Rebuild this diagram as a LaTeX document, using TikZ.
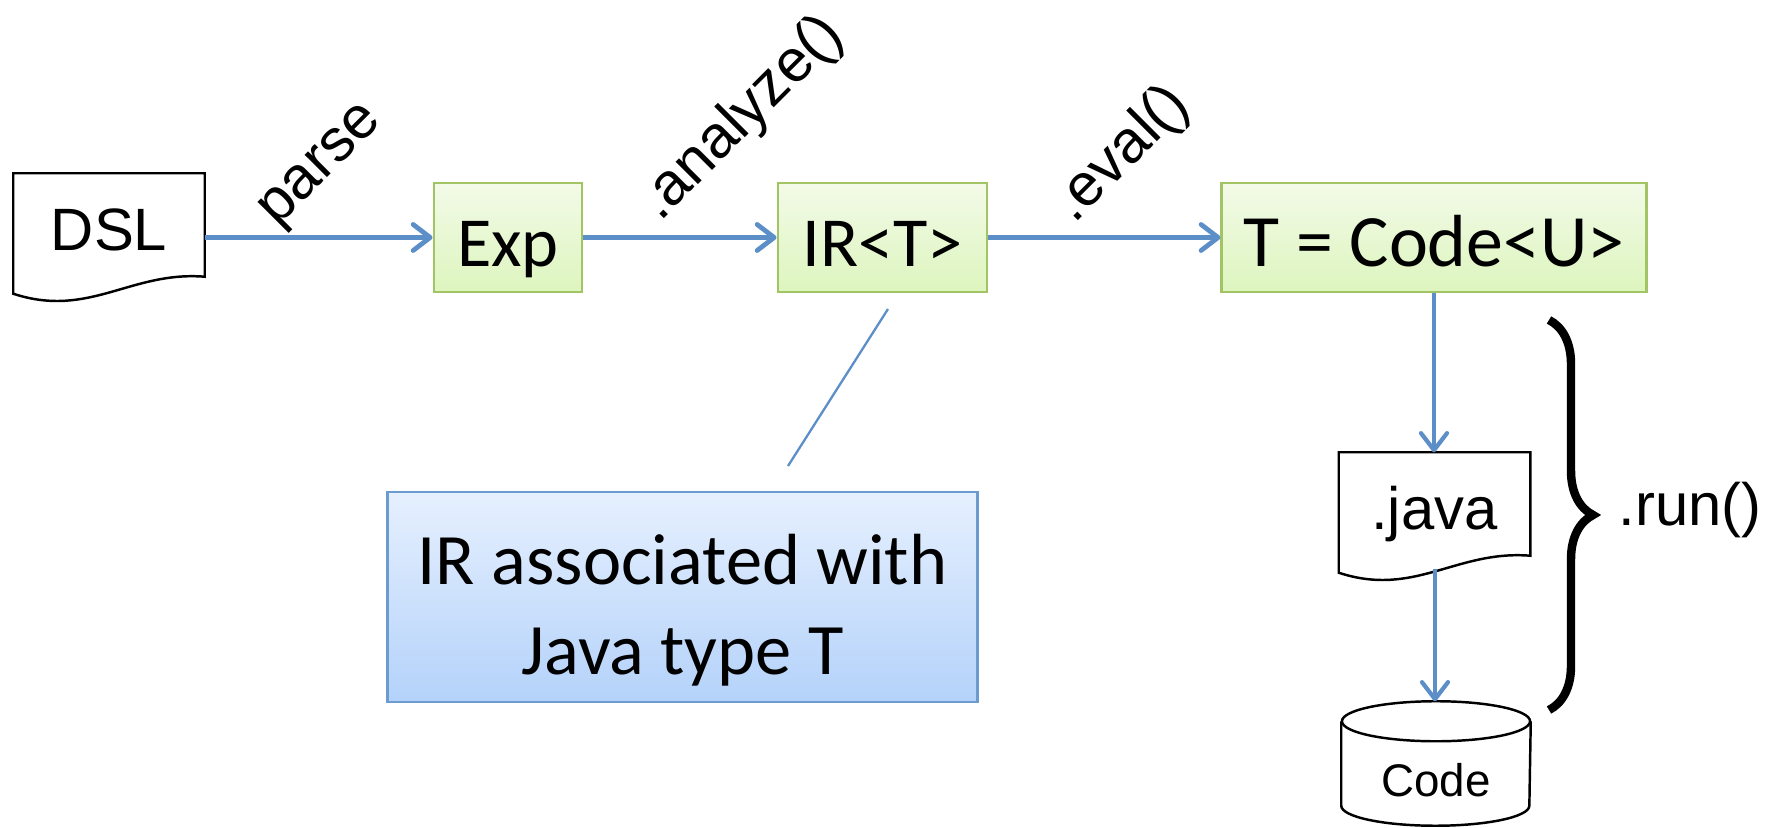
\documentclass[tikz,border=0pt]{standalone}
\usepackage{fontspec}
\setmainfont{Liberation Sans}
\newfontfamily\calib{Carlito}
\usetikzlibrary{arrows.meta,calc,decorations.pathreplacing}
\definecolor{arrowblue}{RGB}{92,143,200}
\definecolor{greentop}{RGB}{243,250,232}
\definecolor{greenbot}{RGB}{221,245,190}
\definecolor{greenborder}{RGB}{163,196,100}
\definecolor{bluetop}{RGB}{230,240,254}
\definecolor{bluebot}{RGB}{180,210,250}
\definecolor{blueborder}{RGB}{108,155,208}
\newcommand{\docoutline}[1]{\draw[docline] (#1.north west) -- (#1.north east) -- (#1.south east)
  .. controls ($(#1.south east)+(-74,-6)$) and ($(#1.south west)+(76,42)$) .. ($(#1.south west)+(0,17)$) -- cycle;}
\begin{document}
\begin{tikzpicture}[x=0.01cm,y=-0.01cm,
  greenbox/.style={draw=greenborder, line width=0.8pt, top color=greentop, bottom color=greenbot,
    minimum height=1.09cm, inner sep=0pt, text height=0.7cm, text depth=0.13cm,
    font=\calib\fontsize{20}{24}\selectfont},
  bluebox/.style={draw=blueborder, line width=0.8pt, top color=bluetop, bottom color=bluebot,
    minimum width=5.89cm, minimum height=2.10cm, inner sep=0pt, align=center,
    font=\calib\fontsize{20.6}{25.6}\selectfont},
  docnode/.style={minimum width=1.9cm, minimum height=1.02cm, inner sep=0pt,
    text height=0.62cm, text depth=0.12cm, font=\fontsize{17}{20}\selectfont},
  docline/.style={draw=black, line width=0.7pt, line join=miter},
  arr/.style={draw=arrowblue, line width=1.35pt, -{Straight Barb[length=1.7mm,width=2.6mm,round]}},
  varr/.style={arr, line width=1.2pt},
  thinline/.style={draw=arrowblue, line width=0.65pt},
  lbl/.style={font=\fontsize{17}{20}\selectfont, inner sep=0pt},
  bracestyle/.style={draw=black, line width=2.4pt, decorate, decoration={brace, amplitude=0.44cm}}
]
\useasboundingbox[fill=white] (0,0) rectangle (1778,828);

% nodes
\node[docnode] (dsl) at (109,225) {DSL};
\docoutline{dsl}
\node[greenbox, minimum width=1.48cm] (exp) at (508,237.5) {Exp};
\node[greenbox, minimum width=2.09cm] (ir) at (882.5,237.5) {IR<T>};
\node[greenbox, minimum width=4.24cm, font=\calib\fontsize{21}{25}\selectfont] (tcode) at (1434,237.5) {T = Code<U>};
\node[docnode] (java) at (1434.5,504) {.java};
\docoutline{java}
\node[minimum width=1.88cm, minimum height=1.23cm, inner sep=0pt, text height=0.75cm, text depth=0.1cm,
  font=\fontsize{13}{16}\selectfont] (code) at (1436,763.5) {Code};
\draw[docline] ($(code.north west)+(0,20)$) -- ($(code.south west)+(0,-20)$)
  arc[start angle=180, end angle=360, x radius=0.94cm, y radius=0.2cm] -- ($(code.north east)+(0,20)$);
\draw[docline] ($(code.north)+(0,20)$) ellipse[x radius=0.94cm, y radius=0.2cm];
\node[bluebox] (note) at (682.5,597) {\rule{0pt}{0.76cm}IR associated with\\Java type T};

% edge labels
\node[lbl, rotate=45] (lparse) at (323,168) {parse};
\node[lbl, rotate=45] (lanalyze) at (742,119) {.analyze()};
\node[lbl, rotate=45] (leval) at (1122,155) {.eval()};
\node[lbl, anchor=base west] (lrun) at (1618,526) {.run()};

% connectors
\draw[arr] (dsl.east |- exp.west) -- (exp.west);
\draw[arr] (exp.east) -- (ir.west);
\draw[arr] (ir.east) -- (tcode.west);
\draw[varr] (tcode.south) -- (tcode.south |- java.north);
\coordinate (javabot) at ($(java.south)+(0.5,13)$);
\draw[varr] (javabot) -- (javabot |- code.north);
\coordinate (irl) at (888,309);
\coordinate (notel) at (788,466);
\draw[thinline] (irl) -- (notel);

% brace
\coordinate (bt) at (1549,320);
\coordinate (bb) at (1549,710);
\draw[bracestyle] (bt) -- (bb);
\end{tikzpicture}
\end{document}
